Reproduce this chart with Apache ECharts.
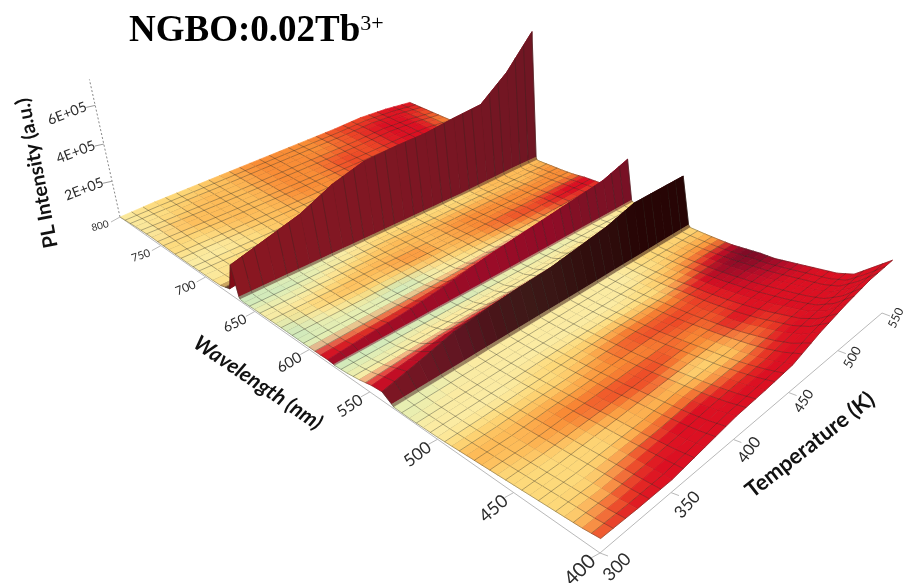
<!DOCTYPE html>
<html><head><meta charset="utf-8">
<style>html,body{margin:0;padding:0;background:#fff}#c{width:904px;height:583px}</style>
<script src="https://cdn.jsdelivr.net/npm/echarts@6/dist/echarts.min.js"></script>
</head><body><div id="c"></div>
<script>
const titleMain='NGBO:0.02Tb', titleSup='3+';
const wavelengthTicks=[800,750,700,650,600,550,500,450,400];
const temperatureTicks=[300,350,400,450,500,550];
const intensityTicks=[2,4,6];
const intensityLabels=['2E+05','4E+05','6E+05'];
const temperatures=[300,325,350,375,400,425,450,475,500,525,550];
const wavelengths=[400,410,420,430,440,450,460,470,480,490,500,510,520,531.5,533,540,548,558,568,578,579,584,590,600,610,620,630,640,650,660,664,665,669,674,684,692,700,720,740,760,780,800];
// PL intensity in units of 1E+05, one list per temperature
const i300=[.65,.55,.5,.45,.4,.35,.3,.25,.2,.15,.1,.08,.06,.08,.15,.45,.4,.25,.15,.1,.12,.15,.13,.12,.12,.12,.12,.1,.1,.08,.1,.2,1.7,.3,.12,.1,.1,.08,.1,.12,.08,0];
const i325=[.6,.5,.45,.4,.35,.3,.25,.2,.15,.12,.1,.08,.06,.08,.15,.85,.6,.3,.15,.1,.12,.3,.2,.15,.12,.12,.12,.1,.1,.08,.1,.2,2.2,.6,.15,.1,.1,.1,.12,.15,.1,.1];
const i350=[.6,.55,.5,.45,.4,.35,.3,.25,.2,.15,.1,.08,.07,.07,.15,1.3,.8,.35,.15,.1,.12,.4,.25,.18,.12,.12,.12,.1,.1,.1,.1,.2,2.7,.9,.2,.12,.12,.12,.15,.15,.15,.15];
const i375=[.85,.7,.6,.5,.45,.4,.3,.25,.2,.15,.12,.1,.08,.08,.16,1.5,.9,.4,.15,.1,.13,.6,.35,.2,.15,.15,.15,.12,.1,.1,.1,.2,3.5,1,.25,.15,.15,.15,.18,.18,.18,.2];
const i400=[1.1,.9,.75,.65,.55,.45,.35,.3,.22,.18,.13,.1,.08,.08,.16,1.65,1,.4,.15,.1,.13,.85,.45,.2,.15,.18,.15,.12,.12,.1,.1,.2,4,1,.25,.2,.2,.2,.2,.22,.25,.25];
const i425=[1.2,1,.85,.7,.6,.5,.4,.3,.25,.2,.15,.1,.08,.08,.16,1.75,1,.4,.15,.1,.14,1.1,.6,.22,.18,.2,.15,.15,.12,.1,.1,.2,4.1,1,.3,.25,.22,.25,.25,.25,.3,.3];
const i450=[1.35,1.1,.9,.75,.65,.55,.45,.35,.25,.2,.15,.1,.08,.08,.16,2,1.1,.45,.15,.1,.15,1.3,.7,.25,.2,.2,.18,.15,.12,.1,.1,.2,4.15,1,.3,.25,.25,.3,.3,.3,.35,.35];
const i475=[1.9,1.4,1.1,.9,.7,.55,.45,.35,.3,.25,.15,.12,.1,.1,.18,2.25,1.3,.5,.2,.12,.16,1.5,.8,.3,.22,.25,.2,.15,.15,.12,.12,.2,4.35,1,.35,.3,.3,.35,.35,.35,.4,.4];
const i500=[2.3,1.6,1.2,1,.8,.65,.5,.4,.3,.25,.18,.12,.1,.1,.18,2.7,1.4,.5,.2,.12,.18,1.7,.9,.35,.3,.3,.2,.18,.15,.12,.12,.25,4.5,1,.4,.35,.35,.4,.4,.45,.5,.5];
const i525=[2.6,1.8,1.25,1,.85,.7,.55,.45,.35,.25,.2,.14,.1,.1,.2,2.7,1.4,.5,.2,.12,.18,1.9,1,.4,.35,.3,.25,.2,.15,.12,.15,.3,5.7,1.2,.5,.4,.4,.4,.4,.45,.45,.45];
const i550=[2.7,2,1.3,1,.85,.7,.55,.4,.35,.25,.15,.12,.1,.1,.2,2.7,1.4,.5,.2,.12,.2,2.4,1.1,.45,.4,.35,.25,.2,.18,.15,.15,.3,7.4,1.5,.6,.5,.35,.35,.3,.3,.3,.3];
// colour level read from the surface (index into the colour ramp), one list per temperature
const c300=[6,4,3,3,3,3,3,4,4,3,2,2,1,1,10,8,7,2,1,0,9,7.5,7,1,0,0,1,2,1,0,0,10,7.3,11,3,2,2,2,3,2,2,2];
const c325=[7,6,4,3,3,3,4,4,4,3,2,2,2,1,10,8.5,7,2,1,0,9,7.5,6,1,1,2,3,2,1,0,1,10,7.5,9,3,3,3,2,3,4,3,3];
const c350=[7,7,6,4,3,4,5,5,4,3,2,2,2,2,10,9,7,2,2,0,9,7.7,6,1,1,3,4,3,2,1,1,10,7.7,8,3,4,3,3,4,4,4,3];
const c375=[7,7,7,5,4,5,6,5,4,3,3,2,2,2,10.5,9.5,7,2,2,0,9,7.8,6,1,0,3,4,4,3,2,2,10,7.8,8,3,4,4,4,4,4,4,4];
const c400=[7,7,7,5,4,6,6,5,5,4,3,2,2,2,10.5,10,7,2,2,0,9,8,6,2,2,4,5,4,4,3,3,10,7.9,7,4,4,4,4,5,5,5,5];
const c425=[7,7,6,4,3,5,6,5,6,5,3,2,2,2,10.5,10.3,8,2,2,1,9,8,7,2,3,4,4,4,4,3,3,10,8,7,4,5,5,5,5,5,5,5];
const c450=[7,7,6,4,4,5,5,6,6,5,3,2,2,2,10.7,10.6,8,2,2,1,9,8.2,7,2,4,5,5,5,4,3,3,10,8.1,7,5,5,5,5,6,6,5,5];
const c475=[7,7,7,6,6,7,6,6,6,5,3,3,2,2,10.7,10.8,8,3,2,1,9,8.3,8,3,5,6,5,5,4,3,3,10,8.2,7,5,6,6,6,6,6,6,6];
const c500=[7,7,7,7,7,7,7,7,7,7,5,4,3,3,11,11,9,3,2,2,9.5,8.4,8,4,6,6,5,5,4,4,4,10,8.3,7,6,6,7,7,7,7,7,6];
const c525=[7,7,7,7,7,7,7.5,8,8.5,8.5,7,5,4,3,11,11,9,3,2,2,9.5,8.5,8,5,7,7,5,5,4,4,4,10,8.4,7,6,7,7,7,7,7,7,7];
const c550=[7,7,7,7,7,7.5,8,8.5,9,9,8,5,4,3,11,11,9,3,3,3,9.5,8.7,8,5,7,7,5,5,5,4,4,10,8.5,7,6,7,7,6,5,5,6,7];
const intensity=[i300,i325,i350,i375,i400,i425,i450,i475,i500,i525,i550];
const levels=[c300,c325,c350,c375,c400,c425,c450,c475,c500,c525,c550];
const ramp=['#cde9bd','#e6eeb2','#fbeba2','#fdd97a','#fdbb58','#f98d36','#ee4b27','#dc1022','#b70d29','#7c0b26','#45201e','#270505'].map(h=>[1,3,5].map(i=>parseInt(h.substr(i,2),16)));

// camera: base-plane corners and the vanishing point of the vertical direction
const A=[600,553],B=[120,217],D=[410,107],C=[882,313],V=[532,2070],kz=-0.01453;
const den=(B[0]-D[0])*(C[1]-D[1])-(C[0]-D[0])*(B[1]-D[1]);
const sx=A[0]-B[0]+D[0]-C[0], sy=A[1]-B[1]+D[1]-C[1];
const g=(sx*(C[1]-D[1])-(C[0]-D[0])*sy)/den, h=((B[0]-D[0])*sy-sx*(B[1]-D[1]))/den;
function project(w,t,z){
  const u=(w-400)/400,v=(t-300)/250,q=kz*z;
  const X=(B[0]*(1+g)-A[0])*u+(C[0]*(1+h)-A[0])*v+A[0]+q*V[0];
  const Y=(B[1]*(1+g)-A[1])*u+(C[1]*(1+h)-A[1])*v+A[1]+q*V[1];
  const W=g*u+h*v+1+q;
  return [X/W,Y/W];
}
function rampColor(l){
  const i=Math.min(Math.floor(l),ramp.length-2),f=l-i;
  return ramp[i].map((c,k)=>c+(ramp[i+1][k]-c)*f);
}
const css=c=>'rgb('+c.map(Math.round).join(',')+')';
const meshColor='rgba(40,40,30,0.6)';

const meshAt=[];let last=-99;
wavelengths.forEach((w,i)=>{ if(w-last>=8){meshAt[i]=true;last=w;} });
const cells=[];
for(let i=wavelengths.length-2;i>=0;i--)for(let j=temperatures.length-2;j>=0;j--)cells.push([i,j]);

function renderCell(params,api){
  const i=api.value(0),j=api.value(1);
  const w0=wavelengths[i],w1=wavelengths[i+1],t0=temperatures[j],t1=temperatures[j+1];
  const z00=intensity[j][i],z10=intensity[j][i+1],z01=intensity[j+1][i],z11=intensity[j+1][i+1];
  const c00=rampColor(levels[j][i]),c10=rampColor(levels[j][i+1]),c01=rampColor(levels[j+1][i]),c11=rampColor(levels[j+1][i+1]);
  const nT=3,nW=Math.max(1,Math.round((w1-w0)/6.5));
  const pt=(a,b)=>{
    const zz=z00*(1-a)*(1-b)+z10*a*(1-b)+z01*(1-a)*b+z11*a*b;
    return api.coord(project(w0+(w1-w0)*a,t0+(t1-t0)*b,zz));
  };
  const children=[];
  for(let a=0;a<nW;a++)for(let b=0;b<nT;b++){
    const a0=a/nW,a1=(a+1)/nW,b0=b/nT,b1=(b+1)/nT,ac=(a0+a1)/2,bc=(b0+b1)/2;
    const col=css(c00.map((c,k)=>c*(1-ac)*(1-bc)+c10[k]*ac*(1-bc)+c01[k]*(1-ac)*bc+c11[k]*ac*bc));
    children.push({type:'polygon',shape:{points:[pt(a0,b0),pt(a1,b0),pt(a1,b1),pt(a0,b1)]},style:{fill:col,stroke:col,lineWidth:.7},silent:true});
  }
  const line=(p,q)=>children.push({type:'line',shape:{x1:p[0],y1:p[1],x2:q[0],y2:q[1]},style:{stroke:meshColor,lineWidth:.6,fill:null},silent:true});
  for(let b=0;b<=nT;b++){ if(b===nT&&j<temperatures.length-2)continue; line(pt(0,b/nT),pt(1,b/nT)); }
  for(let a=0;a<nW;a++){ if(a===0&&!meshAt[i])continue; for(let b=0;b<nT;b++)line(pt(a/nW,b/nT),pt(a/nW,(b+1)/nT)); }
  return {type:'group',children};
}
const axisColor='#b9b9b9', textColor='#2c2c2c', sans='Lato, "Open Sans", sans-serif';
function renderAxes(params,api){
  const kind=api.value(0),val=api.value(1),ch=[];
  const seg=(p,q,col,dash)=>{const a=api.coord(p),b=api.coord(q);ch.push({type:'line',shape:{x1:a[0],y1:a[1],x2:b[0],y2:b[1]},style:{stroke:col,lineWidth:1,lineDash:dash||null,fill:null},silent:true});};
  const label=(p,text,size,rot)=>{const a=api.coord(p);ch.push({type:'text',x:a[0],y:a[1],rotation:rot*Math.PI/180,silent:true,style:{text,fontSize:size,fontFamily:sans,fill:textColor,align:'center',verticalAlign:'middle'}});};
  if(kind===0){
    seg(project(800,300,0),project(400,300,0),axisColor);
    seg(project(400,300,0),project(400,550,0),axisColor);
    seg(project(800,300,0),project(800,300,7.3),'#888',[2,2]);
  }else if(kind===1){
    const f=(800-val)/400,p=project(val,300,0);
    seg(p,[p[0]-9,p[1]+5],axisColor);
    label([p[0]-20,p[1]+9+8*f],String(val),Math.round(10+9.5*f),15+30*f);
  }else if(kind===2){
    const f=(val-300)/250,p=project(400,val,0);
    seg(p,[p[0]+8,p[1]+3],axisColor);
    label([p[0]+17-3*f,p[1]+14-9*f],String(val),Math.round(18-6*f),45+20*f);
  }else{
    const p=project(800,300,val);
    seg(p,[p[0]-9,p[1]+2],'#999');
    label([p[0]-28,p[1]+8],intensityLabels[intensityTicks.indexOf(val)],14,21);
  }
  return {type:'group',children:ch};
}
const axisRows=[[0,0]].concat(wavelengthTicks.map(v=>[1,v]),temperatureTicks.map(v=>[2,v]),intensityTicks.map(v=>[3,v]));

const chart=echarts.init(document.getElementById('c'));
chart.setOption({
  animation:false,
  backgroundColor:'#fff',
  title:{text:'{m|'+titleMain+'}{s|'+titleSup+'}',left:124,top:8,textStyle:{rich:{
    m:{fontFamily:'"Liberation Serif"',fontWeight:'bold',fontSize:37,color:'#000'},
    s:{fontFamily:'"Liberation Serif"',fontWeight:'normal',fontSize:22,color:'#000',verticalAlign:'top'}}}},
  grid:{left:0,right:0,top:0,bottom:0},
  xAxis:{type:'value',min:0,max:904,show:false},
  yAxis:{type:'value',min:0,max:583,inverse:true,show:false},
  series:[
    {type:'custom',coordinateSystem:'cartesian2d',data:axisRows,renderItem:renderAxes,clip:false,silent:true,z:1},
    {type:'custom',coordinateSystem:'cartesian2d',data:cells,renderItem:renderCell,clip:false,silent:true,z:2,progressive:0}
  ],
  graphic:[
    {type:'text',x:37,y:173,rotation:101*Math.PI/180,silent:true,style:{text:'PL Intensity (a.u.)',font:'bold 20px '+sans,fill:'#111',align:'center',verticalAlign:'middle'}},
    {type:'text',x:258,y:383,rotation:-34*Math.PI/180,silent:true,style:{text:'Wavelength (nm)',font:'italic bold 21px '+sans,fill:'#111',align:'center',verticalAlign:'middle'}},
    {type:'text',x:810,y:445,rotation:38*Math.PI/180,silent:true,style:{text:'Temperature (K)',font:'bold 22px '+sans,fill:'#111',align:'center',verticalAlign:'middle'}}
  ]
});
</script></body></html>
